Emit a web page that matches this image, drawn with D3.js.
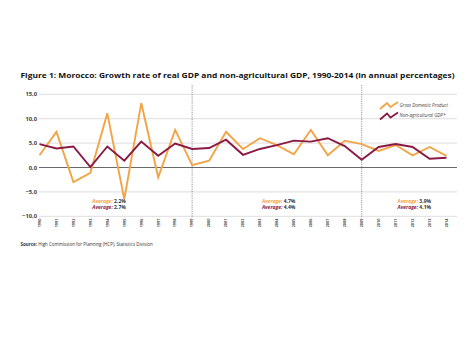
<!DOCTYPE html>
<html>
<head>
<meta charset="utf-8">
<script src="https://cdnjs.cloudflare.com/ajax/libs/d3/7.8.5/d3.min.js"></script>
<style>
  body { margin: 0; background: #fff; }
  svg { display: block; font-family: "Open Sans", "Liberation Sans", sans-serif; }
</style>
</head>
<body>
<div id="chart"></div>
<script>
/* DATA */
const years = d3.range(1990, 2015).map(String);
const gdp = [2.5, 7.3, -3.0, -1.1, 11.1, -6.5, 13.2, -2.0, 7.7, 0.5,
  1.4, 7.3, 3.8, 6.0, 4.6, 2.7, 7.7, 2.5, 5.5, 4.8,
  3.4, 4.6, 2.5, 4.2, 2.4];
const nonAg = [4.8, 3.9, 4.3, 0.1, 4.3, 1.4, 5.3, 2.4, 4.9, 3.8,
  4.0, 5.7, 2.6, 3.8, 4.6, 5.5, 5.3, 6.0, 4.4, 1.6,
  4.2, 4.8, 4.2, 1.8, 2.0];
const yTicks = [-10, -5, 0, 5, 10, 15];
const breakYears = ["1999", "2009"];
const averages = [
  { year: "1994", gdp: "2.2%", nonAg: "2.7%" },
  { year: "2004", gdp: "4.7%", nonAg: "4.4%" },
  { year: "2012", gdp: "3.9%", nonAg: "4.1%" }
];
const seriesNames = ["Gross Domestic Product", "Non-agricultural GDP*"];

/* CONSTANTS */
const width = 468, height = 351;
const orange = "#f3a447", maroon = "#8a1943";

const svg = d3.select("#chart").append("svg")
  .attr("width", width).attr("height", height);

// title
svg.append("text")
  .attr("x", 20.5).attr("y", 77.5)
  .attr("font-size", 7.6).attr("font-weight", "bold").attr("fill", "#111")
  .attr("textLength", 434).attr("lengthAdjust", "spacingAndGlyphs")
  .text("Figure 1: Morocco: Growth rate of real GDP and non-agricultural GDP, 1990-2014 (in annual percentages)");

// scales
const x = d3.scalePoint().domain(years).range([39.5, 446.5]);
const y = d3.scaleLinear().domain([-10, 15]).range([216.3, 94.3]);

// gridlines
svg.append("g").selectAll("line")
  .data(yTicks.filter(d => d !== 0))
  .join("line")
  .attr("x1", 39).attr("x2", 457)
  .attr("y1", d => y(d)).attr("y2", d => y(d))
  .attr("stroke", "#cfcfcf").attr("stroke-width", 0.7);

svg.append("line")
  .attr("x1", 39).attr("x2", 457)
  .attr("y1", y(0)).attr("y2", y(0))
  .attr("stroke", "#6a6a6a").attr("stroke-width", 1.2);

// y axis labels
svg.append("g").selectAll("text")
  .data(yTicks)
  .join("text")
  .attr("x", 37).attr("y", d => y(d) + 2)
  .attr("text-anchor", "end")
  .attr("font-size", 5.8).attr("font-weight", "bold").attr("fill", "#444")
  .text(d => d3.format(".1f")(d).replace(".", ","));

// x axis labels (rotated)
svg.append("g").selectAll("text")
  .data(years)
  .join("text")
  .attr("transform", d => `translate(${x(d) + 1.3},223) rotate(-90)`)
  .attr("text-anchor", "middle")
  .attr("font-size", 3.8).attr("font-weight", "bold").attr("fill", "#444")
  .text(d => d);

// period separators
svg.append("g").selectAll("line")
  .data(breakYears)
  .join("line")
  .attr("x1", d => x(d)).attr("x2", d => x(d))
  .attr("y1", 85).attr("y2", 217)
  .attr("stroke", "#333").attr("stroke-width", 0.6)
  .attr("stroke-dasharray", "0.8,1");

// lines
const line = d3.line().x((d, i) => x(years[i])).y(d => y(d));

svg.append("path").datum(gdp)
  .attr("d", line)
  .attr("fill", "none").attr("stroke", orange)
  .attr("stroke-width", 1.9).attr("stroke-linejoin", "miter");

svg.append("path").datum(nonAg)
  .attr("d", line)
  .attr("fill", "none").attr("stroke", maroon)
  .attr("stroke-width", 1.9).attr("stroke-linejoin", "miter");

// averages
const avg = svg.append("g").selectAll("g")
  .data(averages)
  .join("g")
  .attr("transform", d => `translate(${x(d.year) - 15},0)`);

[["gdp", orange, 202.5], ["nonAg", maroon, 209]].forEach(([k, c, yy]) => {
  const t = avg.append("text")
    .attr("y", yy)
    .attr("font-size", 5).attr("font-weight", "bold");
  t.append("tspan").attr("fill", c).attr("font-style", "italic").text("Average: ");
  t.append("tspan").attr("fill", "#333").text(d => d[k]);
});

// legend
const legend = svg.append("g").selectAll("g")
  .data([orange, maroon])
  .join("g")
  .attr("transform", (d, i) => `translate(380,${106 + i * 10.5})`);

legend.append("path")
  .attr("d", "M0,3 L7,-3 L10.5,1 L18,-4")
  .attr("fill", "none").attr("stroke", d => d).attr("stroke-width", 1.8);

legend.append("text")
  .attr("x", 19.5).attr("y", 0.5)
  .attr("font-size", 4.6).attr("font-style", "italic").attr("fill", "#444")
  .text((d, i) => seriesNames[i]);

// source
const src = svg.append("text")
  .attr("x", 20.5).attr("y", 245.5)
  .attr("font-size", 4.5).attr("fill", "#333");
src.append("tspan").attr("font-weight", "bold").text("Source: ");
src.append("tspan").text("High Commission for Planning (HCP), Statistics Division");
</script>
</body>
</html>
